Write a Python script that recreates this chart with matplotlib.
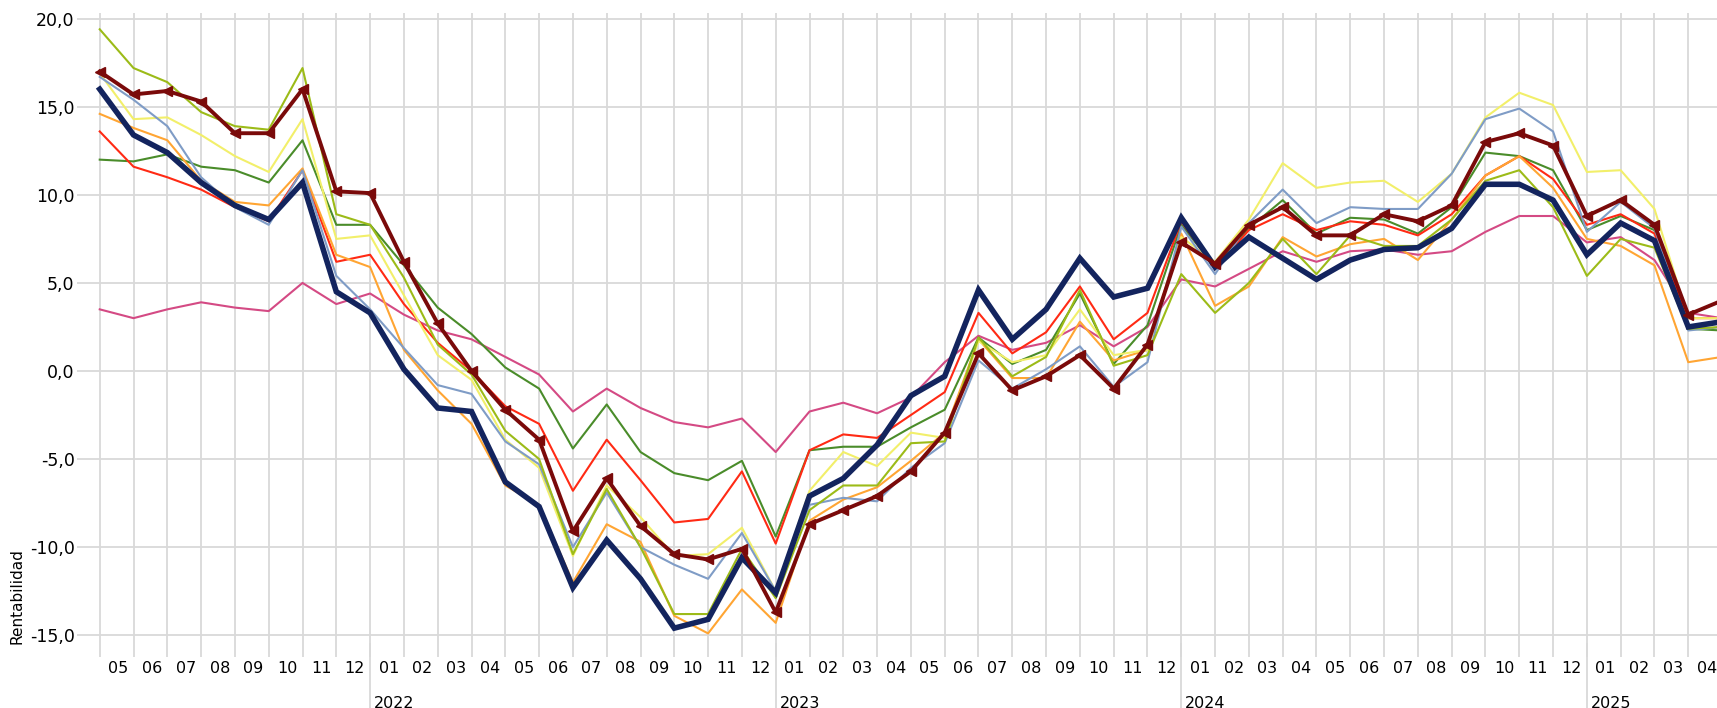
import numpy as np
import matplotlib.pyplot as plt
from matplotlib.ticker import FuncFormatter

months = ['05', '06', '07', '08', '09', '10', '11', '12'] + \
    ['%02d' % m for m in range(1, 13)] * 3 + ['01', '02', '03', '04']
years = {8: '2022', 20: '2023', 32: '2024', 44: '2025'}

navy = [16.0, 13.4, 12.4, 10.7, 9.4, 8.6, 10.7, 4.5, 3.3, 0.1, -2.1, -2.3, -6.3, -7.7,
        -12.3, -9.6, -11.8, -14.6, -14.1, -10.6, -12.6, -7.1, -6.1, -4.2, -1.4, -0.3,
        4.6, 1.8, 3.5, 6.4, 4.2, 4.7, 8.7, 5.9, 7.6, 6.4, 5.2, 6.3, 6.9, 7.0, 8.1, 10.6,
        10.6, 9.7, 6.6, 8.4, 7.4, 2.5, 2.8]
darkred = [17.0, 15.7, 15.9, 15.3, 13.5, 13.5, 16.0, 10.2, 10.1, 6.2, 2.7, 0.0, -2.2, -3.9,
           -9.1, -6.1, -8.8, -10.4, -10.7, -10.1, -13.7, -8.7, -7.9, -7.1, -5.7, -3.5,
           1.0, -1.1, -0.3, 0.9, -1.0, 1.5, 7.3, 6.1, 8.3, 9.3, 7.7, 7.7, 8.9, 8.5, 9.4,
           13.0, 13.5, 12.8, 8.8, 9.7, 8.3, 3.2, 4.0]
olive = [19.4, 17.2, 16.4, 14.7, 13.9, 13.7, 17.2, 8.9, 8.3, 5.3, 1.5, -0.2, -3.4, -5.0,
         -10.4, -6.7, -10.0, -13.8, -13.8, -10.1, -12.9, -7.9, -6.5, -6.5, -4.1, -4.0,
         1.9, -0.3, 0.8, 4.6, 0.3, 0.9, 5.5, 3.3, 5.0, 7.5, 5.5, 7.7, 7.1, 7.1, 8.6, 10.8,
         11.4, 9.3, 5.4, 7.5, 7.0, 2.4, 2.5]
steel = [16.7, 15.4, 13.9, 11.0, 9.3, 8.3, 11.4, 5.4, 3.5, 1.3, -0.8, -1.3, -4.0, -5.3,
         -10.0, -6.9, -10.0, -11.0, -11.8, -9.2, -12.5, -7.6, -7.2, -7.4, -5.5, -4.1,
         0.6, -1.0, 0.1, 1.4, -0.9, 0.5, 8.2, 5.5, 8.4, 10.3, 8.4, 9.3, 9.2, 9.2, 11.2,
         14.3, 14.9, 13.6, 7.9, 9.6, 8.1, 2.3, 2.5]
yellow = [16.9, 14.3, 14.4, 13.4, 12.2, 11.3, 14.3, 7.5, 7.7, 4.3, 0.9, -0.5, -3.9, -5.5,
          -10.5, -6.5, -8.3, -10.5, -10.4, -8.9, -12.5, -6.8, -4.6, -5.4, -3.5, -3.8,
          1.7, 0.5, 0.9, 3.5, 0.9, 1.2, 7.6, 6.2, 8.6, 11.8, 10.4, 10.7, 10.8, 9.6, 11.2,
          14.4, 15.8, 15.1, 11.3, 11.4, 9.2, 3.0, 3.0]
orange = [14.6, 13.8, 13.1, 10.8, 9.6, 9.4, 11.5, 6.6, 5.9, 1.2, -1.1, -3.0, -6.5, -7.6,
          -12.0, -8.7, -9.7, -13.9, -14.9, -12.4, -14.3, -8.5, -7.3, -6.6, -5.1, -3.5,
          1.8, -0.4, -0.4, 2.8, 0.6, 1.2, 7.8, 3.7, 4.8, 7.6, 6.5, 7.2, 7.5, 6.3, 8.6,
          11.1, 12.2, 10.4, 7.5, 7.1, 6.0, 0.5, 0.8]
red = [13.6, 11.6, 11.0, 10.3, 9.3, 8.5, 11.4, 6.2, 6.6, 3.8, 1.6, 0.0, -2.0, -3.0,
       -6.8, -3.9, -6.2, -8.6, -8.4, -5.7, -9.8, -4.5, -3.6, -3.8, -2.5, -1.2,
       3.3, 1.0, 2.2, 4.8, 1.8, 3.3, 8.5, 5.8, 8.0, 8.9, 8.0, 8.5, 8.3, 7.7, 8.9,
       11.1, 12.2, 10.9, 8.3, 8.9, 7.8, 3.0, 3.0]
green = [12.0, 11.9, 12.3, 11.6, 11.4, 10.7, 13.1, 8.3, 8.3, 6.0, 3.6, 2.1, 0.2, -1.0,
         -4.4, -1.9, -4.6, -5.8, -6.2, -5.1, -9.4, -4.5, -4.3, -4.3, -3.2, -2.2,
         1.9, 0.4, 1.2, 4.4, 0.4, 2.6, 8.3, 5.9, 8.1, 9.7, 7.8, 8.7, 8.6, 7.8, 9.3,
         12.4, 12.2, 11.4, 8.0, 8.8, 8.0, 2.4, 2.3]
pink = [3.5, 3.0, 3.5, 3.9, 3.6, 3.4, 5.0, 3.8, 4.4, 3.2, 2.3, 1.8, 0.8, -0.2,
        -2.3, -1.0, -2.1, -2.9, -3.2, -2.7, -4.6, -2.3, -1.8, -2.4, -1.5, 0.5,
        2.0, 1.2, 1.6, 2.6, 1.4, 2.5, 5.2, 4.8, 5.8, 6.8, 6.2, 6.8, 6.9, 6.6, 6.8,
        7.9, 8.8, 8.8, 7.3, 7.6, 6.3, 3.3, 3.0]

thin = [(pink, '#d44a84'), (green, '#4a8c2a'), (red, '#ff2a14'), (orange, '#ffa533'),
        (yellow, '#f2ef6a'), (steel, '#7f9cc6'), (olive, '#9cbb18')]

fig = plt.figure(figsize=(17.17, 7.08), dpi=100)
ax = fig.add_axes([0.0507, 0.0904, 0.9493, 0.8906])
x = np.arange(len(navy))

for vals, col in thin:
    ax.plot(x, vals, color=col, lw=1.5, zorder=3)
ax.plot(x, navy, color='#13245e', lw=4, zorder=4, solid_joinstyle='miter')
ax.plot(x, darkred, color='#7a0a0a', lw=2.8, marker='<', ms=7, zorder=5)

ax.set_xlim(-0.375, 47.85)
ax.set_ylim(-15.5, 20.3)
ax.set_yticks(np.arange(-15, 21, 5))
ax.yaxis.set_major_formatter(FuncFormatter(lambda v, p: ('%.1f' % v).replace('.', ',')))
ax.set_xticks(np.arange(48))
ax.set_xticklabels([])
ax.set_xticks(np.arange(48) + 0.55, minor=True)
ax.set_xticklabels(months, minor=True)
ax.tick_params(axis='x', which='major', length=9.5, color='#d9d9d9', width=1.3)
ax.tick_params(axis='x', which='minor', length=0, pad=12, labelsize=11.5)
ax.tick_params(axis='y', length=7, color='#d9d9d9', width=1.3, labelsize=12.5, pad=2)
ax.grid(True, color='#d9d9d9', lw=1.3, zorder=0)
for s in ax.spines.values():
    s.set_visible(False)

for i, yr in years.items():
    ax.plot([i, i], [-15.5, -19.7], color='#d9d9d9', lw=1.3, clip_on=False)
    ax.text(i + 0.12, -18.9, yr, fontsize=11.5, va='center', ha='left')

ax.set_ylabel('Rentabilidad', fontsize=11, loc='bottom', labelpad=4)
fig.savefig('out.png', dpi=100)
